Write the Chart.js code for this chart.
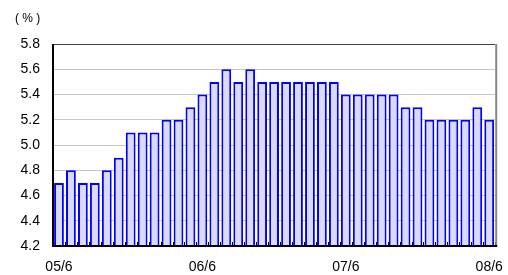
<!DOCTYPE html>
<html>
<head>
<meta charset="utf-8">
<script src="https://cdn.jsdelivr.net/npm/chart.js@4.4.1/dist/chart.umd.min.js"></script>
<style>
  html, body { margin: 0; padding: 0; background: #fff; }
  #wrap { width: 508px; height: 275px; }
</style>
</head>
<body>
<div id="wrap"><canvas id="chart"></canvas></div>
<script>
// monthly, 05/6 .. 08/6
const months = [
  '05/6','05/7','05/8','05/9','05/10','05/11','05/12','06/1','06/2','06/3','06/4','06/5',
  '06/6','06/7','06/8','06/9','06/10','06/11','06/12','07/1','07/2','07/3','07/4','07/5',
  '07/6','07/7','07/8','07/9','07/10','07/11','07/12','08/1','08/2','08/3','08/4','08/5',
  '08/6'
];
const rates = [
  4.7, 4.8, 4.7, 4.7, 4.8, 4.9, 5.1, 5.1, 5.1, 5.2, 5.2, 5.3,
  5.4, 5.5, 5.6, 5.5, 5.6, 5.5, 5.5, 5.5, 5.5, 5.5, 5.5, 5.5,
  5.4, 5.4, 5.4, 5.4, 5.4, 5.3, 5.3, 5.2, 5.2, 5.2, 5.2, 5.3,
  5.2
];
const shownLabels = ['05/6', '06/6', '07/6', '08/6'];
const yTicks = [4.2, 4.4, 4.6, 4.8, 5.0, 5.2, 5.4, 5.6, 5.8];

const FONT = '"Liberation Sans", Arial, sans-serif';

// frame, inner x ticks and the unit label
const framePlugin = {
  id: 'frame',
  afterDatasetsDraw(chart) {
    const { ctx, chartArea: a, scales } = chart;
    ctx.save();
    // small ticks between bars, pointing up from the bottom axis
    const x = scales.x;
    const step = x.getPixelForValue(1) - x.getPixelForValue(0);
    ctx.strokeStyle = '#000';
    ctx.lineWidth = 1;
    for (let i = 0; i <= months.length; i++) {
      const px = Math.round(x.getPixelForValue(i) - step / 2) + 0.5;
      ctx.beginPath();
      ctx.moveTo(px, a.bottom);
      ctx.lineTo(px, a.bottom - 4);
      ctx.stroke();
    }
    // top and right border
    ctx.strokeStyle = '#444';
    ctx.beginPath();
    ctx.moveTo(a.left, a.top + 0.5);
    ctx.lineTo(a.right, a.top + 0.5);
    ctx.stroke();
    ctx.strokeStyle = '#888';
    ctx.lineWidth = 2;
    ctx.beginPath();
    ctx.moveTo(a.right + 1, a.top);
    ctx.lineTo(a.right + 1, a.bottom);
    ctx.stroke();
    // left and bottom axis
    ctx.strokeStyle = '#000';
    ctx.lineWidth = 2;
    ctx.beginPath();
    ctx.moveTo(a.left, a.top);
    ctx.lineTo(a.left, a.bottom);
    ctx.lineTo(a.right + 2, a.bottom);
    ctx.stroke();
    // unit
    ctx.fillStyle = '#000';
    ctx.font = '12px ' + FONT;
    ctx.textAlign = 'left';
    ctx.textBaseline = 'middle';
    ctx.fillText('( % )', 15, 19);
    ctx.restore();
  }
};

new Chart(document.getElementById('chart'), {
  type: 'bar',
  data: {
    labels: months,
    datasets: [{
      data: rates,
      backgroundColor: '#dadaff',
      borderColor: '#0000ff',
      borderWidth: 2,
      barPercentage: 0.82,
      categoryPercentage: 1.0
    }]
  },
  options: {
    responsive: true,
    maintainAspectRatio: false,
    animation: false,
    layout: { padding: { top: 44, right: 11, bottom: 0, left: 0 } },
    plugins: {
      legend: { display: false },
      tooltip: { enabled: false }
    },
    scales: {
      x: {
        offset: true,
        afterFit(s) { s.height = 29; },
        grid: { display: false },
        border: { display: false },
        ticks: {
          autoSkip: false,
          maxRotation: 0,
          padding: 5,
          color: '#000',
          font: { family: FONT, size: 14 },
          callback: function (v) {
            const l = this.getLabelForValue(v);
            return shownLabels.includes(l) ? l : '';
          }
        }
      },
      y: {
        min: yTicks[0],
        max: yTicks[yTicks.length - 1],
        afterFit(s) { s.width = 53; },
        afterBuildTicks(s) { s.ticks = yTicks.map(v => ({ value: v })); },
        grid: { color: '#c8c8c8', drawTicks: false },
        border: { display: false },
        ticks: {
          padding: 13,
          color: '#000',
          font: { family: FONT, size: 14 },
          callback: v => v.toFixed(1)
        }
      }
    }
  },
  plugins: [framePlugin]
});
</script>
</body>
</html>
